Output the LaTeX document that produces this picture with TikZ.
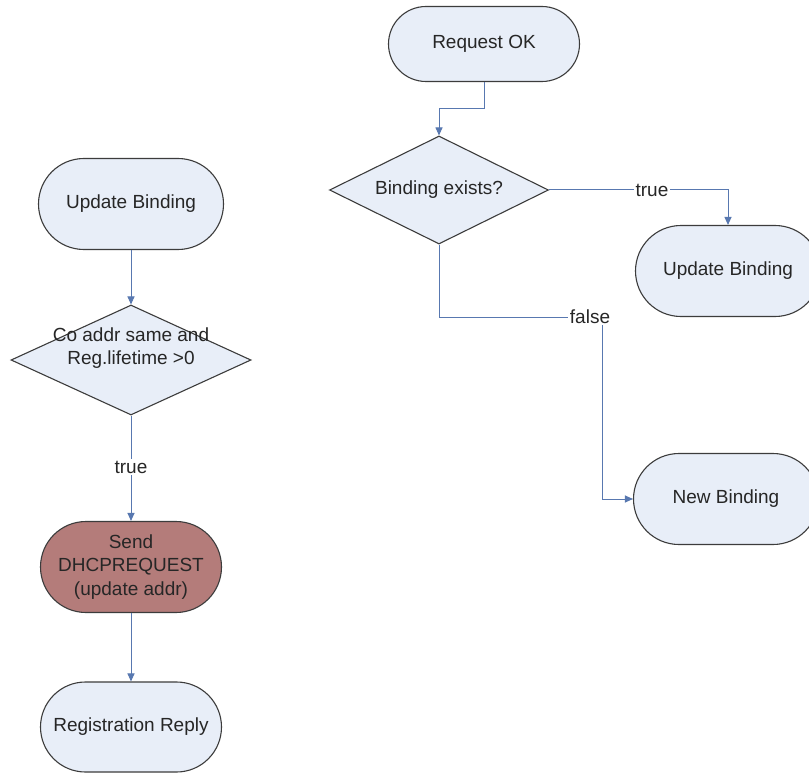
\documentclass[tikz,border=0pt]{standalone}
\usepackage{fontspec}
\setmainfont{Liberation Sans}
\usetikzlibrary{shapes.geometric,shapes.misc,arrows.meta}
\definecolor{boxfill}{HTML}{E8EEF8}
\definecolor{boxline}{HTML}{3C3C3C}
\definecolor{conncol}{HTML}{5878B0}
\definecolor{sendfill}{HTML}{B47C7A}
\begin{document}
\begin{tikzpicture}[x=1pt,y=-1pt,
  term/.style={rounded rectangle, draw=boxline, line width=1.1pt, fill=boxfill,
    minimum width=185pt, minimum height=91pt, inner sep=0pt,
    font=\fontsize{19}{23.5}\selectfont, text=black!85, align=center},
  dec/.style={diamond, aspect=2, draw=boxline, line width=1.1pt, fill=boxfill, inner sep=0pt,
    font=\fontsize{19}{23}\selectfont, text=black!85, align=center},
  txt/.style={font=\fontsize{19}{23}\selectfont, text=black!85, align=center, inner sep=0pt},
  conn/.style={draw=conncol, line width=1pt, -{Triangle[width=7pt,length=8pt]}},
  lbl/.style={fill=white, inner sep=1.5pt, font=\fontsize{19}{23}\selectfont, text=black!85}]
\clip (0,0) rectangle (809,773);
\useasboundingbox (0,0) rectangle (809,773);
\fill[white] (0,0) rectangle (809,773);

% right flow
\node[term, minimum width=191pt, minimum height=75pt] (rok) at (484,44) {Request OK};
\node[dec, minimum width=219pt, minimum height=108pt] (d1) at (439,190) {Binding exists?};
\node[term] (ub2) at (728,271) {Update Binding};
\node[term] (nb) at (726,499) {New Binding};
\coordinate (fk) at (602,317);

% left flow
\node[term] (ub1) at (131,204) {Update Binding};
\node[dec, minimum width=240pt, minimum height=110pt] (d2) at (131,360) {};
\node[txt] (d2t) at (131,348) {Co addr same and\\Reg.lifetime >0};
\node[term, minimum width=181pt, fill=sendfill] (send) at (131,567) {Send\\DHCPREQUEST\\(update addr)};
\node[term, minimum width=181pt, minimum height=90pt] (rr) at (131,727) {Registration Reply};

% connectors
\draw[conn] (rok.south) -- ++(0,26) -| (d1.north);
\draw[conn] (d1.east) -| (ub2.north);
\node[lbl] (t1) at (652,190) {true};
\draw[conn] (d1.south) |- (fk) |- (nb.west);
\node[lbl] (f1) at (590,317) {false};

\draw[conn] (ub1.south) -- (d2.north);
\draw[conn] (d2.south) -- (send.north);
\node[lbl] (t2) at (131,467) {true};
\draw[conn] (send.south) -- (rr.north);
\end{tikzpicture}
\end{document}
